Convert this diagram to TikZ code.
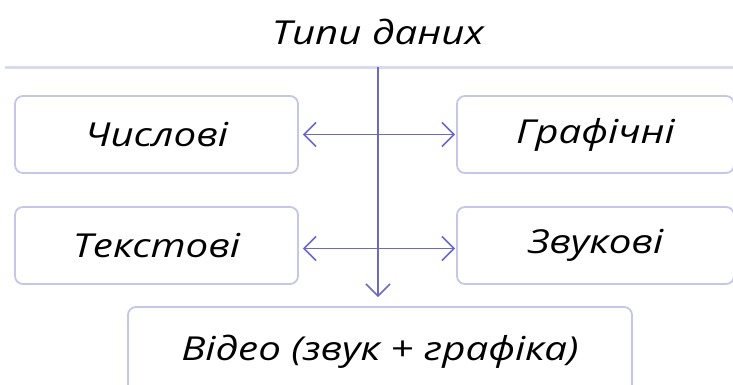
\documentclass[tikz,border=0pt]{standalone}
\usepackage{fontspec}
\newfontfamily\handfont[FakeStretch=1.22]{Open Sans}
\usetikzlibrary{arrows.meta}
\definecolor{boxline}{HTML}{C6C6E8}
\definecolor{topline}{HTML}{D9D9EF}
\definecolor{arrowc}{HTML}{6A6AC6}
\begin{document}
\begin{tikzpicture}[x=1pt,y=-1pt,
  hand/.style={font=\handfont\itshape\fontsize{33}{38}\selectfont, text=black},
  box/.style={draw=boxline, line width=1.8pt, rounded corners=8pt, inner sep=0pt, hand},
  link/.style={draw=arrowc, line width=1.6pt},
  tip/.style={-{Straight Barb[length=12pt,width=24pt,line width=1.6pt]}},
  bitip/.style={{Straight Barb[length=12pt,width=24pt,line width=1.6pt]}-{Straight Barb[length=12pt,width=24pt,line width=1.6pt]}}
]
\useasboundingbox (0,0) rectangle (733,384);
\fill[white] (0,0) rectangle (733,384);
\node[hand] (title) at (378,32) {Типи даних};
\coordinate (tl) at (5,67);
\coordinate (tr) at (733,67);
\coordinate (top) at (378,67);
\draw[topline, line width=3pt] (tl) -- (tr);
\node[box, minimum width=283pt, minimum height=77pt] (num) at (156.5,134.5) {Числові};
\node[box, minimum width=277pt, minimum height=77pt] (gra) at (595.5,134.5) {Графічні};
\node[box, minimum width=283pt, minimum height=77pt] (txt) at (156.5,245.5) {Текстові};
\node[box, minimum width=277pt, minimum height=77pt] (snd) at (595.5,245.5) {Звукові};
\node[box, minimum width=504pt, minimum height=90pt] (vid) at (380,352) {Відео (звук + графіка)};
\draw[link, tip, shorten >=9pt] (top) -- (top |- vid.north);
\draw[link, bitip, shorten <=4pt, shorten >=1pt] (num.east) -- (gra.west);
\draw[link, bitip, shorten <=4pt, shorten >=1pt] ([yshift=-3pt]txt.east) -- ([yshift=-3pt]snd.west);
\end{tikzpicture}
\end{document}
